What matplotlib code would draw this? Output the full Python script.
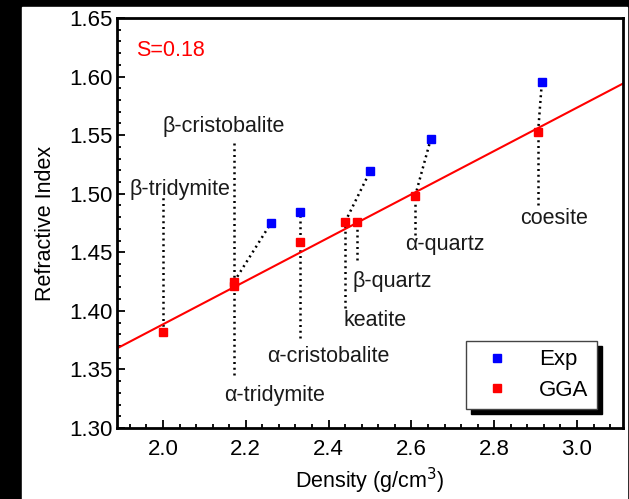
import matplotlib
matplotlib.use('Agg')
import matplotlib.pyplot as plt
from matplotlib.patches import Rectangle
from matplotlib.ticker import MultipleLocator
from matplotlib.transforms import IdentityTransform

plt.rcParams['font.family'] = ['Liberation Sans', 'DejaVu Sans']

# data
gga_density = [2.00, 2.172, 2.172, 2.331, 2.440, 2.469, 2.609, 2.906]
gga_index = [1.382, 1.421, 1.425, 1.459, 1.476, 1.476, 1.498, 1.553]
exp_density = [2.261, 2.331, 2.500, 2.647, 2.915]
exp_index = [1.475, 1.484, 1.519, 1.547, 1.595]

fit_slope = 0.185
fit_intercept = 1.0185

# phase labels and where they sit
phase_names = ['β-tridymite', 'β-cristobalite', 'α-tridymite', 'α-cristobalite',
               'keatite', 'β-quartz', 'α-quartz', 'coesite']
label_x = [2.040, 2.146, 2.270, 2.400, 2.513, 2.553, 2.680, 2.945]
label_y = [1.504, 1.557, 1.328, 1.361, 1.392, 1.425, 1.457, 1.479]

# dotted guides: (x0, y0, x1, y1)
guides = [
    (gga_density[0], gga_index[0], gga_density[0], 1.497),
    (gga_density[1], 1.3454, gga_density[1], 1.543),
    (gga_density[2], gga_index[2], exp_density[0], exp_index[0]),
    (gga_density[3], 1.377, exp_density[1], exp_index[1]),
    (gga_density[4], 1.4026, gga_density[4], gga_index[4]),
    (gga_density[4], gga_index[4], exp_density[2], exp_index[2]),
    (gga_density[5], 1.4435, gga_density[5], gga_index[5]),
    (gga_density[6], 1.465, gga_density[6], gga_index[6]),
    (gga_density[6], gga_index[6], exp_density[3], exp_index[3]),
    (gga_density[7], 1.4905, gga_density[7], gga_index[7]),
    (gga_density[7], gga_index[7], exp_density[4], exp_index[4]),
]

fs = 16
fs_lab = 15.5

fig = plt.figure(figsize=(6.29, 4.99), dpi=100, facecolor='black')
# white panel inside the black border
fig.patches.append(Rectangle((22 / 629, 0), 605 / 629, 1 - 7 / 499,
                             transform=fig.transFigure, color='white', zorder=-1))

ax = fig.add_axes([117 / 629, 1 - 428 / 499, 506 / 629, 410 / 499])
ax.set_facecolor('white')

xs = [1.889, 3.111]
ax.plot(xs, [fit_intercept + fit_slope * x for x in xs], color='#ff0000', lw=1.5, zorder=2)

for x0, y0, x1, y1 in guides:
    ax.plot([x0, x1], [y0, y1], color='black', lw=1.8, ls=(0, (0.8, 1.5)), zorder=1)

ax.plot(exp_density, exp_index, 's', color='#0000ff', ms=6, ls='none', label='Exp', zorder=3)
ax.plot(gga_density, gga_index, 's', color='#ff0000', ms=6, ls='none', label='GGA', zorder=3)

for name, tx, ty in zip(phase_names, label_x, label_y):
    ax.text(tx, ty, name, fontsize=fs_lab, ha='center', va='center', color='#1a1a1a')

ax.text(1.935, 1.622, 'S=0.18', fontsize=fs_lab, color='#ff0000', ha='left', va='center')

ax.set_xlim(1.889, 3.111)
ax.set_ylim(1.30, 1.65)
ax.xaxis.set_major_locator(MultipleLocator(0.2))
ax.xaxis.set_minor_locator(MultipleLocator(0.04))
ax.yaxis.set_major_locator(MultipleLocator(0.05))
ax.yaxis.set_minor_locator(MultipleLocator(0.01))
ax.tick_params(which='both', direction='in', top=False, right=False,
               labelsize=fs, width=1.3, colors='black')
ax.tick_params(which='major', length=6)
ax.tick_params(which='minor', length=3)
ax.tick_params(axis='y', which='major', pad=3)
ax.tick_params(axis='x', which='major', pad=8)
for sp in ax.spines.values():
    sp.set_linewidth(2)

ax.set_xlabel('Density (g/cm$^3$)', fontsize=fs_lab, labelpad=4)
ax.set_ylabel('Refractive Index', fontsize=fs_lab, labelpad=10)

leg = ax.legend(loc='lower right', bbox_to_anchor=(0.948, 0.046), borderaxespad=0,
                fontsize=fs, fancybox=False, framealpha=1, edgecolor='#444444',
                handlelength=2.0, handletextpad=0.9, borderpad=0.38,
                labelspacing=0.42, markerscale=1.0)
leg.get_frame().set_linewidth(1.0)
leg.set_zorder(6)

# black drop shadow behind the legend
fig.canvas.draw()
bb = leg.get_window_extent()
ax.add_patch(Rectangle((bb.x0 + 5, bb.y0 - 5), bb.width, bb.height,
                       transform=IdentityTransform(), color='black', zorder=5.5,
                       clip_on=False))

fig.savefig('out.png', dpi=100, facecolor='black')
